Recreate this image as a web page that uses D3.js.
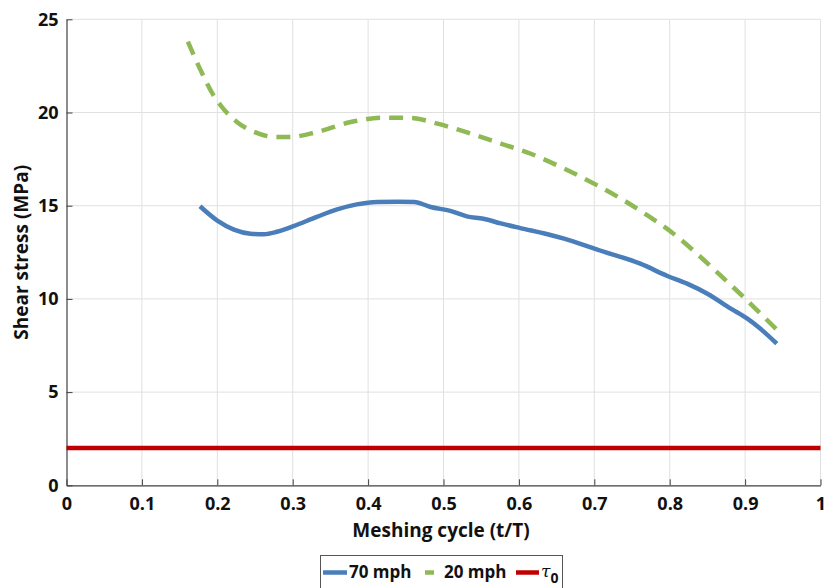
<!DOCTYPE html>
<html>
<head>
<meta charset="utf-8">
<script src="https://cdn.jsdelivr.net/npm/d3@7"></script>
<style>
  html, body { margin: 0; padding: 0; background: #fff; }
  svg text { font-family: "Open Sans", Lato, sans-serif; font-weight: bold; fill: #111; }
</style>
</head>
<body>
<svg id="chart" width="831" height="588"></svg>
<script>
// Meshing cycle positions (t/T) and shear stress (MPa) for each speed
const cycle70 = [0.177, 0.200, 0.222, 0.244, 0.262, 0.279, 0.301, 0.332, 0.359, 0.385, 0.412, 0.440, 0.461, 0.483, 0.509, 0.531, 0.553, 0.576, 0.602, 0.638, 0.660, 0.704, 0.761, 0.797, 0.823, 0.850, 0.881, 0.903, 0.920, 0.942];
const stress70 = [14.97, 14.20, 13.72, 13.50, 13.47, 13.60, 13.90, 14.40, 14.80, 15.07, 15.20, 15.21, 15.20, 14.93, 14.72, 14.43, 14.30, 14.05, 13.80, 13.47, 13.23, 12.64, 11.89, 11.23, 10.82, 10.28, 9.48, 8.94, 8.41, 7.60];

const cycle20 = [0.161, 0.178, 0.195, 0.206, 0.226, 0.255, 0.275, 0.297, 0.332, 0.377, 0.421, 0.456, 0.492, 0.536, 0.576, 0.615, 0.660, 0.704, 0.739, 0.770, 0.805, 0.836, 0.867, 0.898, 0.925, 0.943];
const stress20 = [23.80, 22.26, 20.92, 20.30, 19.49, 18.87, 18.69, 18.69, 18.95, 19.49, 19.72, 19.71, 19.40, 18.87, 18.33, 17.80, 16.99, 16.09, 15.29, 14.49, 13.50, 12.43, 11.27, 10.10, 9.03, 8.32];

// Threshold shear stress tau_0
const tau0 = 2;

const xTicks = [0, 0.1, 0.2, 0.3, 0.4, 0.5, 0.6, 0.7, 0.8, 0.9, 1];
const yTicks = [0, 5, 10, 15, 20, 25];

const seriesNames = ["70 mph", "20 mph"];
const colors = { s70: "#4a7ebb", s20: "#8fb955", tau: "#c00000" };

const svg = d3.select("#chart");

const x = d3.scaleLinear().domain([0, 1]).range([66.5, 820.5]);
const y = d3.scaleLinear().domain([0, 25]).range([485.3, 19.3]);

// grid
const grid = svg.append("g");
grid.selectAll(".vg").data(xTicks.slice(1)).join("line")
  .attr("x1", d => x(d)).attr("x2", d => x(d))
  .attr("y1", y(0)).attr("y2", y(25))
  .attr("stroke", "#e0e0e0").attr("stroke-width", 1);
grid.selectAll(".hg").data(yTicks.slice(1)).join("line")
  .attr("x1", x(0)).attr("x2", x(1))
  .attr("y1", d => y(d)).attr("y2", d => y(d))
  .attr("stroke", "#e0e0e0").attr("stroke-width", 1);

// axes
const xAxis = d3.axisBottom(x).tickValues(xTicks).tickSizeInner(-6).tickSizeOuter(0)
  .tickFormat(d => d === 0 ? "0" : d === 1 ? "1" : d3.format(".1f")(d));
const gx = svg.append("g").attr("transform", `translate(0,${y(0)})`).call(xAxis);
gx.select(".domain").attr("stroke", "#404040").attr("stroke-width", 1.2);
gx.selectAll(".tick line").attr("stroke", "#404040");
gx.selectAll(".tick text").attr("y", 0).attr("dy", 0)
  .attr("transform", "translate(0,25)").style("font-size", "18px");

const yAxis = d3.axisLeft(y).tickValues(yTicks).tickSizeInner(-6).tickSizeOuter(0);
const gy = svg.append("g").attr("transform", `translate(${x(0)},0)`).call(yAxis);
gy.select(".domain").attr("stroke", "#404040").attr("stroke-width", 1.2);
gy.selectAll(".tick line").attr("stroke", "#404040");
gy.selectAll(".tick text").attr("x", -8).style("font-size", "18px");

// axis titles
svg.append("text").attr("x", 441).attr("y", 537).attr("text-anchor", "middle")
  .style("font-size", "19px").text("Meshing cycle (t/T)");
svg.append("text").attr("transform", `translate(28,${(y(0) + y(25)) / 2}) rotate(-90)`)
  .attr("text-anchor", "middle").style("font-size", "19px").text("Shear stress (MPa)");

// lines
const line = d3.line().x(d => x(d[0])).y(d => y(d[1])).curve(d3.curveMonotoneX);

svg.append("line").attr("x1", x(0)).attr("x2", x(1)).attr("y1", y(tau0)).attr("y2", y(tau0))
  .attr("stroke", colors.tau).attr("stroke-width", 4.5);

svg.append("path").datum(d3.zip(cycle20, stress20)).attr("d", line)
  .attr("fill", "none").attr("stroke", colors.s20).attr("stroke-width", 4.5)
  .attr("stroke-dasharray", "14,9");

svg.append("path").datum(d3.zip(cycle70, stress70)).attr("d", line)
  .attr("fill", "none").attr("stroke", colors.s70).attr("stroke-width", 4.5);

// legend
const lg = svg.append("g");
lg.append("rect").attr("x", 320.5).attr("y", 555.5).attr("width", 242).attr("height", 40)
  .attr("fill", "#fff").attr("stroke", "#555").attr("stroke-width", 1);
lg.append("line").attr("x1", 323).attr("x2", 347).attr("y1", 572.5).attr("y2", 572.5)
  .attr("stroke", colors.s70).attr("stroke-width", 4.5);
lg.append("text").attr("x", 349).attr("y", 578).style("font-size", "17px").text(seriesNames[0]);
lg.append("line").attr("x1", 425).attr("x2", 434).attr("y1", 572.5).attr("y2", 572.5)
  .attr("stroke", colors.s20).attr("stroke-width", 4.5);
lg.append("text").attr("x", 444).attr("y", 578).style("font-size", "17px").text(seriesNames[1]);
lg.append("line").attr("x1", 516).attr("x2", 539).attr("y1", 572.5).attr("y2", 572.5)
  .attr("stroke", colors.tau).attr("stroke-width", 4.5);
const tauText = lg.append("text").attr("x", 541).attr("y", 577).style("font-size", "17px");
tauText.append("tspan").style("font-style", "italic").style("font-weight", "normal").style("font-family", "'DejaVu Serif', serif").text("τ");
tauText.append("tspan").attr("dy", 6).style("font-size", "14px").text("0");
</script>
</body>
</html>
